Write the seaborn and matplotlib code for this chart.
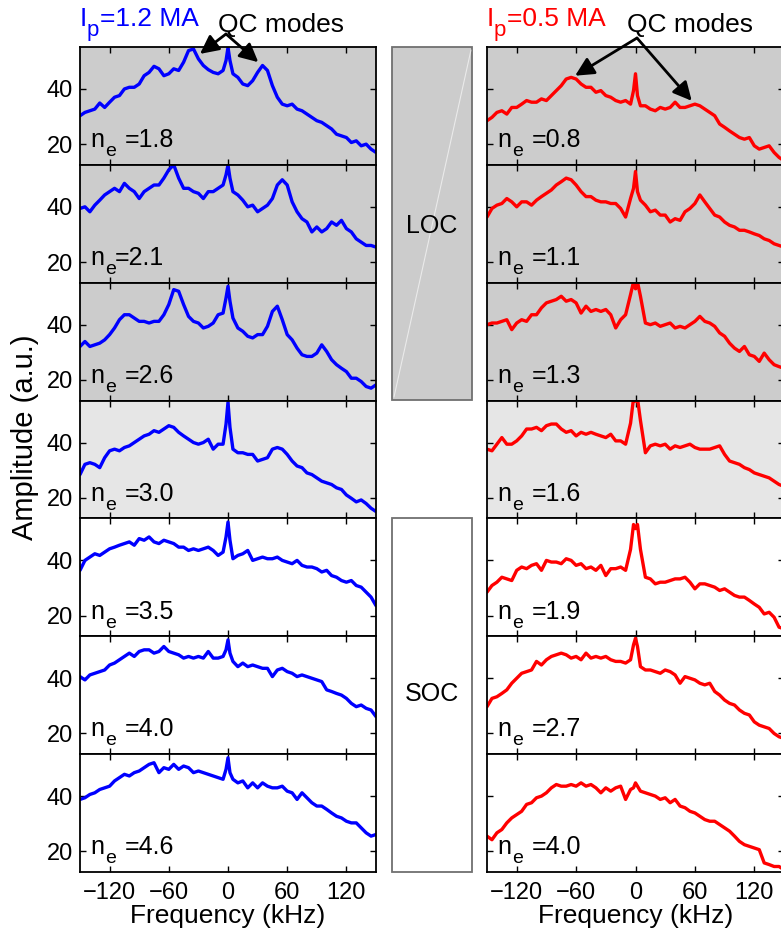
import matplotlib
matplotlib.use("Agg")
import matplotlib.pyplot as plt
from matplotlib.patches import Rectangle
from matplotlib.transforms import offset_copy
import seaborn as sns

# frequency grid (kHz), extra samples around the 0 kHz line
freq = list(range(-150, 0, 5)) + [-2, 0, 2] + list(range(5, 155, 5))

# Ip = 1.2 MA (blue), amplitude in a.u.
blue_18 = [30.3, 31.5, 32.1, 32.7, 34.9, 33.3, 35.2, 37.0, 37.6, 40.0,
           40.6, 40.6, 41.8, 44.8, 46.0, 48.2, 47.3, 44.8, 45.5, 47.3,
           46.7, 49.7, 53.9, 54.5, 50.9, 48.5, 47.0, 46.0, 45.5, 46.7,
           50.3, 55.0, 50.3,
           45.5, 44.2, 41.8, 41.2, 43.0, 46.0, 48.5, 46.7, 41.2, 37.0,
           34.5, 33.9, 34.5, 32.7, 32.1, 30.9, 29.7, 28.5, 27.9, 26.7,
           25.5, 23.6, 23.0, 22.4, 20.6, 21.2, 19.4, 20.0, 18.2, 17.0]
blue_21 = [39.4, 40.0, 38.2, 40.6, 42.4, 44.3, 45.5, 46.7, 45.5, 48.5,
           46.7, 45.5, 43.0, 45.5, 46.7, 47.9, 47.9, 50.4, 53.4, 55.2,
           50.4, 46.7, 46.7, 45.5, 44.9, 43.0, 45.5, 45.5, 46.7, 47.9,
           51.6, 55.2, 50.4,
           45.5, 44.3, 42.4, 40.0, 40.6, 38.2, 39.4, 40.6, 43.0, 47.9,
           49.8, 47.9, 41.8, 38.2, 35.7, 34.5, 30.9, 32.7, 30.9, 32.1,
           34.5, 33.3, 35.1, 32.1, 30.9, 28.4, 27.2, 26.0, 26.0, 25.4]
blue_26 = [32.1, 33.9, 32.1, 32.7, 33.3, 34.5, 36.4, 38.8, 41.8, 43.6,
           43.6, 42.4, 41.2, 41.2, 40.6, 41.2, 41.2, 43.6, 47.3, 52.7,
           52.1, 47.3, 43.0, 41.2, 40.6, 38.8, 39.4, 40.6, 43.6, 44.2,
           49.7, 53.9, 48.5,
           42.4, 38.8, 37.6, 35.8, 35.2, 36.4, 36.4, 39.4, 44.8, 46.7,
           41.8, 36.4, 34.5, 31.5, 29.1, 28.5, 28.5, 29.7, 32.7, 30.3,
           27.3, 25.5, 24.2, 23.0, 20.6, 20.6, 19.4, 17.6, 17.0, 18.2]
blue_30 = [28.4, 32.1, 32.7, 32.1, 30.9, 34.5, 37.0, 37.6, 37.0, 38.2,
           38.8, 40.0, 41.2, 42.4, 43.0, 44.3, 43.7, 44.9, 46.1, 45.5,
           43.7, 42.4, 41.2, 40.0, 39.4, 40.0, 41.2, 37.6, 39.4, 39.4,
           46.7, 54.6, 45.5,
           37.6, 36.3, 36.3, 35.7, 35.7, 33.3, 33.9, 34.5, 37.6, 38.2,
           37.6, 35.7, 33.3, 31.5, 30.9, 29.0, 28.4, 27.2, 26.0, 25.4,
           24.8, 23.6, 23.0, 21.0, 19.8, 18.5, 19.2, 17.9, 16.2, 15.0]
blue_35 = [36.4, 40.0, 41.2, 42.4, 41.8, 43.0, 44.2, 44.8, 45.5, 46.1,
           46.7, 45.5, 47.9, 47.3, 48.5, 46.7, 46.1, 47.3, 46.7, 46.1,
           44.8, 44.8, 43.6, 44.2, 43.6, 44.2, 44.8, 43.6, 41.8, 43.0,
           48.5, 53.9, 47.3,
           40.6, 41.8, 42.4, 43.6, 40.0, 40.6, 41.2, 40.6, 40.6, 41.2,
           40.0, 39.4, 38.8, 40.0, 38.2, 37.6, 37.6, 37.0, 35.8, 36.4,
           34.5, 33.9, 32.7, 32.1, 32.7, 30.9, 30.3, 28.5, 26.7, 23.6]
blue_40 = [40.6, 39.4, 41.2, 41.8, 42.4, 43.0, 44.8, 45.5, 46.7, 47.9,
           49.1, 47.9, 49.7, 50.3, 50.3, 49.1, 49.7, 51.5, 49.7, 49.1,
           48.5, 47.3, 47.9, 47.3, 47.9, 47.3, 49.7, 47.3, 47.3, 47.9,
           50.3, 53.9, 49.1,
           46.1, 44.2, 45.5, 44.2, 44.8, 44.2, 43.6, 43.6, 40.6, 43.0,
           43.6, 42.4, 41.8, 40.6, 41.2, 40.6, 40.0, 39.4, 38.8, 35.8,
           35.2, 34.5, 33.9, 32.7, 30.9, 29.7, 30.3, 29.1, 28.5, 26.1]
blue_46 = [38.8, 39.4, 40.6, 41.2, 42.4, 43.0, 43.6, 45.5, 46.7, 47.9,
           47.3, 48.5, 49.1, 50.3, 51.5, 52.1, 48.5, 50.3, 49.7, 51.5,
           49.7, 50.9, 50.3, 48.5, 49.1, 48.5, 47.9, 47.3, 46.7, 46.1,
           49.7, 53.9, 48.5,
           46.1, 44.8, 45.5, 43.0, 44.8, 43.0, 44.8, 43.6, 43.0, 43.0,
           43.6, 41.8, 41.2, 38.8, 41.2, 39.4, 37.6, 36.4, 36.4, 35.2,
           33.9, 32.7, 32.1, 30.9, 30.3, 30.3, 28.5, 26.7, 25.5, 26.1]

# Ip = 0.5 MA (red)
red_08 = [28.5, 29.7, 31.5, 32.1, 30.9, 33.3, 33.3, 34.5, 35.8, 35.2,
          35.2, 36.4, 35.8, 37.6, 39.4, 41.2, 43.6, 44.2, 43.6, 41.8,
          40.6, 40.6, 38.8, 39.4, 37.6, 37.0, 35.8, 35.2, 35.8, 34.5,
          39.4, 45.5, 37.6,
          33.9, 33.9, 32.7, 32.1, 33.3, 32.7, 33.3, 35.2, 33.3, 33.3,
          33.9, 34.5, 33.9, 32.7, 31.5, 30.3, 27.3, 26.1, 24.8, 23.6,
          22.4, 21.8, 22.4, 19.4, 18.2, 18.8, 19.4, 17.0, 15.2, 14.0]
red_11 = [36.3, 39.4, 40.6, 41.2, 43.0, 41.8, 40.0, 41.8, 41.8, 40.6,
          42.4, 43.7, 44.9, 46.1, 47.9, 49.1, 50.4, 49.8, 47.9, 45.5,
          43.7, 43.7, 42.4, 41.8, 41.8, 41.2, 41.2, 39.4, 36.3, 43.0,
          46.7, 52.8, 45.5,
          42.4, 40.6, 38.2, 38.8, 37.0, 37.0, 34.5, 35.7, 35.1, 38.2,
          39.4, 41.2, 44.3, 41.8, 39.4, 37.0, 36.3, 34.5, 33.3, 32.7,
          31.5, 31.5, 30.9, 30.2, 29.6, 28.4, 27.8, 26.6, 26.0, 25.4]
red_13 = [40.0, 40.6, 40.6, 41.2, 41.8, 38.2, 40.6, 41.8, 41.2, 43.6,
          43.6, 46.1, 47.9, 48.5, 49.1, 50.3, 48.5, 49.1, 47.9, 44.2,
          46.7, 44.8, 45.5, 44.8, 45.5, 43.6, 38.8, 41.8, 43.6, 50.9,
          55.5, 53.0, 55.5,
          50.3, 40.6, 40.0, 40.6, 39.4, 40.0, 40.6, 38.8, 39.4, 38.8,
          40.0, 41.2, 43.0, 41.2, 40.6, 39.4, 37.0, 35.8, 33.3, 31.5,
          30.3, 32.1, 29.1, 28.5, 26.7, 29.7, 27.3, 25.5, 24.8, 24.2]
red_16 = [37.6, 37.0, 39.4, 41.8, 39.4, 39.4, 40.6, 42.4, 44.9, 44.9,
          45.5, 44.3, 46.1, 46.7, 46.7, 44.9, 43.7, 44.3, 42.4, 43.7,
          43.0, 43.7, 43.0, 42.4, 41.8, 43.0, 40.6, 40.6, 39.4, 47.0,
          56.0, 55.0, 56.0,
          48.0, 36.3, 38.8, 39.4, 38.8, 39.4, 37.6, 38.8, 38.2, 38.8,
          39.4, 38.2, 37.6, 37.6, 37.6, 38.2, 38.8, 35.7, 33.3, 32.7,
          32.1, 30.9, 30.2, 29.0, 28.4, 27.8, 27.2, 26.0, 24.8, 24.1]
red_19 = [28.5, 30.9, 32.1, 33.9, 33.3, 32.7, 36.4, 37.6, 37.0, 38.2,
          38.8, 36.4, 40.0, 39.4, 39.4, 38.8, 40.6, 40.0, 38.2, 38.8,
          37.0, 37.6, 36.4, 38.2, 34.5, 37.0, 37.0, 37.6, 36.4, 44.0,
          53.0, 51.5, 53.0,
          44.0, 33.9, 33.3, 31.5, 32.1, 32.1, 32.7, 33.3, 33.3, 33.9,
          32.1, 29.7, 31.5, 31.5, 30.9, 30.3, 29.1, 29.7, 28.5, 27.3,
          26.7, 26.7, 25.5, 24.2, 23.0, 20.6, 21.2, 19.4, 15.8, 15.2]
red_27 = [29.7, 32.7, 33.3, 34.5, 35.8, 38.2, 40.0, 41.8, 42.4, 43.0,
          46.1, 44.8, 46.7, 47.9, 48.5, 49.1, 48.5, 47.3, 47.9, 46.7,
          49.1, 47.3, 47.9, 47.3, 47.9, 46.7, 46.1, 46.1, 45.5, 46.7,
          52.1, 54.5, 51.5,
          44.2, 43.0, 43.0, 42.4, 41.8, 43.0, 42.4, 41.2, 38.2, 40.6,
          40.0, 39.4, 38.2, 37.6, 38.2, 35.2, 33.9, 32.1, 30.9, 30.3,
          28.5, 27.3, 26.7, 24.2, 23.0, 22.4, 21.8, 20.0, 18.8, 18.2]
red_40 = [25.5, 24.2, 26.7, 27.9, 30.3, 32.1, 33.3, 34.5, 37.0, 37.6,
          39.4, 40.0, 41.2, 43.0, 44.2, 43.6, 43.6, 44.2, 43.6, 44.8,
          43.6, 44.2, 43.0, 41.2, 43.0, 41.8, 43.0, 43.6, 38.8, 42.4,
          43.0, 44.8, 43.6,
          41.8, 41.2, 40.6, 40.0, 38.8, 39.4, 37.6, 38.8, 36.4, 35.8,
          34.5, 33.9, 32.7, 31.5, 30.9, 30.9, 29.7, 28.5, 27.3, 25.5,
          23.6, 22.4, 21.8, 21.2, 20.6, 15.8, 15.2, 14.5, 14.5, 13.3]

blue_curves = [blue_18, blue_21, blue_26, blue_30, blue_35, blue_40, blue_46]
red_curves = [red_08, red_11, red_13, red_16, red_19, red_27, red_40]
blue_labels = ["1.8", "2.1", "2.6", "3.0", "3.5", "4.0", "4.6"]
red_labels = ["0.8", "1.1", "1.3", "1.6", "1.9", "2.7", "4.0"]
panel_bg = ["#cccccc", "#cccccc", "#cccccc", "#e6e6e6", "white", "white", "white"]

sns.set_style("ticks")
plt.rcParams["font.family"] = ["Liberation Sans", "DejaVu Sans"]
for key in ["text.color", "axes.labelcolor", "xtick.color", "ytick.color"]:
    plt.rcParams[key] = "black"

W, H = 781, 938
fig = plt.figure(figsize=(W / 100, H / 100), dpi=100)

top_px, ph = 47, 117.86


def panel_axes(x_px, w_px, i):
    y0 = 1 - (top_px + ph * (i + 1)) / H
    return fig.add_axes([x_px / W, y0, w_px / W, ph / H])


def style_axes(ax, i, show_y):
    ax.set_xlim(-150, 150)
    ax.set_ylim(12.5, 55.2)
    ax.set_facecolor(panel_bg[i])
    ax.set_xticks([-120, -60, 0, 60, 120])
    ax.set_yticks([20, 40])
    ax.tick_params(direction="in", top=True, right=True, length=4, width=1,
                   labelsize=17, pad=5, colors="k")
    for s in ax.spines.values():
        s.set_linewidth(1.3)
        s.set_color("k")
    if not show_y:
        ax.set_yticklabels([])
    if i < 6:
        ax.set_xticklabels([])
    else:
        ax.tick_params(axis="x", pad=7)
        ax.set_xlabel("Frequency (kHz)", fontsize=19, labelpad=0)
    ax.set_ylabel("")


def sub_label(trans, x, y, main, sub, rest, sub_dx, rest_dx, size, sub_size, drop, color):
    # main letter, lowered subscript, then the rest of the string
    fig.text(x, y, main, transform=trans, fontsize=size, color=color, va="baseline")
    t2 = offset_copy(trans, fig=fig, x=sub_dx, y=-drop, units="dots")
    fig.text(x, y, sub, transform=t2, fontsize=sub_size, color=color, va="baseline")
    t3 = offset_copy(trans, fig=fig, x=rest_dx, y=0, units="dots")
    fig.text(x, y, rest, transform=t3, fontsize=size, color=color, va="baseline")


left_axes, right_axes = [], []
for i in range(7):
    ax = panel_axes(80, 296, i)
    sns.lineplot(x=freq, y=blue_curves[i], ax=ax, color="#0000ff", lw=2.4,
                 estimator=None, sort=False)
    style_axes(ax, i, True)
    gap = 25 if blue_labels[i] == "2.1" else 35
    sub_label(ax.transAxes, 0.034, 0.15, "n", "e", "=" + blue_labels[i],
              15, gap, 18, 14, 9, "k")
    left_axes.append(ax)

    ax = panel_axes(487, 297, i)
    sns.lineplot(x=freq, y=red_curves[i], ax=ax, color="#ff0000", lw=2.4,
                 estimator=None, sort=False)
    style_axes(ax, i, False)
    sub_label(ax.transAxes, 0.034, 0.15, "n", "e", "=" + red_labels[i],
              15, 35, 18, 14, 9, "k")
    right_axes.append(ax)

# LOC / SOC boxes in the middle column
loc_box = Rectangle((392 / W, 1 - 400 / H), 80 / W, 353 / H, transform=fig.transFigure,
                    facecolor="#cccccc", edgecolor="#707070", lw=1.3)
soc_box = Rectangle((392 / W, 1 - 872 / H), 80 / W, 354 / H, transform=fig.transFigure,
                    facecolor="white", edgecolor="#707070", lw=1.3)
fig.patches.extend([loc_box, soc_box])
fig.lines.append(plt.Line2D([394 / W, 471 / W], [1 - 397 / H, 1 - 50 / H],
                            transform=fig.transFigure, color="white", lw=0.8, alpha=0.6))
fig.text(432 / W, 1 - 226 / H, "LOC", fontsize=18, ha="center", va="center")
fig.text(432 / W, 1 - 694 / H, "SOC", fontsize=18, ha="center", va="center")

# titles and annotations
sub_label(fig.transFigure, 80 / W, 1 - 26 / H, "I", "p", "=1.2 MA",
          7, 20, 19, 16, 10, "#0000ff")
sub_label(fig.transFigure, 487 / W, 1 - 26 / H, "I", "p", "=0.5 MA",
          7, 20, 19, 16, 10, "#ff0000")
fig.text(218 / W, 1 - 32 / H, "QC modes", fontsize=19, va="baseline")
fig.text(627 / W, 1 - 32 / H, "QC modes", fontsize=19, va="baseline")

arrow = dict(arrowstyle="-|>", color="k", lw=2, mutation_scale=28,
             shrinkA=0, shrinkB=0)
for xy in [(-28.4, 52.7), (30.7, 49.7)]:
    left_axes[0].annotate("", xy=xy, xytext=(226 / W, 1 - 34 / H),
                          textcoords="figure fraction", arrowprops=arrow,
                          annotation_clip=False)
for xy in [(-61, 44.8), (56.8, 35.7)]:
    right_axes[0].annotate("", xy=xy, xytext=(637 / W, 1 - 38 / H),
                           textcoords="figure fraction", arrowprops=arrow,
                           annotation_clip=False)

fig.text(25 / W, 1 - 437 / H, "Amplitude (a.u.)", fontsize=21, rotation=90,
         ha="center", va="center")

fig.savefig("out.png", dpi=100)
